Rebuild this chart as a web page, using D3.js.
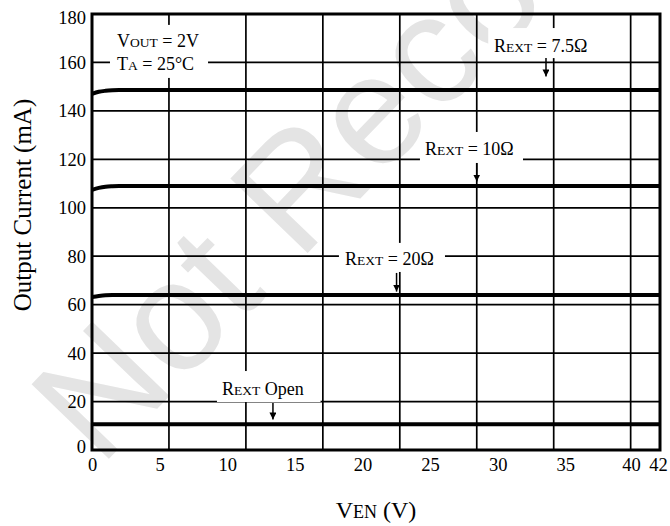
<!DOCTYPE html>
<html><head><meta charset="utf-8">
<script src="https://cdn.jsdelivr.net/npm/d3@7"></script>
<style>
body{margin:0;background:#fff}
svg{display:block}
text{font-family:"Liberation Serif","Times New Roman",serif;fill:#000}
</style>
</head><body>
<svg id="chart" width="670" height="526"></svg>
<script>
// ---- data ----
const vEn   = [0, 0.5, 1, 1.5, 2, 3, 5, 10, 15, 20, 25, 30, 35, 40, 42];
const iR75  = [147.0, 147.9, 148.3, 148.5, 148.6, 148.6, 148.6, 148.6, 148.6, 148.6, 148.6, 148.6, 148.6, 148.6, 148.6];
const iR10  = [107.4, 108.2, 108.7, 108.9, 109.0, 109.0, 109.0, 109.0, 109.0, 109.0, 109.0, 109.0, 109.0, 109.0, 109.0];
const iR20  = [63.2, 63.6, 63.9, 64.0, 64.0, 64.0, 64.0, 64.0, 64.0, 64.0, 64.0, 64.0, 64.0, 64.0, 64.0];
const iOpen = [10.6, 10.6, 10.6, 10.6, 10.6, 10.6, 10.6, 10.6, 10.6, 10.6, 10.6, 10.6, 10.6, 10.6, 10.6];
const seriesList = [iR75, iR10, iR20, iOpen];
const xTicks = [0, 5, 10, 15, 20, 25, 30, 35, 40, 42];
const yTicks = [0, 20, 40, 60, 80, 100, 120, 140, 160, 180];
const xGrid  = [5.69, 11.38, 17.07, 22.76, 28.45, 34.14, 39.83];
const yGrid  = [20, 40, 60, 80, 100, 120, 140, 160];

// annotation labels: [text, smallcaps?], position in data units
const labels = [
  {parts:[["V",0],["OUT",1],[" = 2V",0]], x:1.85, y:166.4, box:[1.33,8.58,175.5,153.6]},
  {parts:[["T",0],["A",1],[" = 25°C",0]], x:1.85, y:156.9, box:null},
  {parts:[["R",0],["EXT",1],[" = 7.5Ω",0]], x:29.73, y:164.3, box:[29.3,36.9,174.2,161.8], arrow:[33.57,161.8,154.2]},
  {parts:[["R",0],["EXT",1],[" = 10Ω",0]], x:24.62, y:121.8, box:[24.25,31.87,131.3,118.5], arrow:[28.45,118.5,110.8]},
  {parts:[["R",0],["EXT",1],[" = 20Ω",0]], x:18.71, y:76.4, box:[18.26,26.1,85.5,73.5], arrow:[22.52,73.1,65.4]},
  {parts:[["R",0],["EXT",1],[" Open",0]], x:9.61, y:22.7, box:[9.24,16.9,32.6,19.8], arrow:[13.38,19.4,12.6]}
];

// ---- scales ----
const x = d3.scaleLinear().domain([0, 42]).range([92, 660]);
const y = d3.scaleLinear().domain([0, 180]).range([450, 14]);

const svg = d3.select('#chart');

// watermark
svg.append('text')
  .attr('transform', 'translate(100,468) rotate(-46)')
  .style('font-family', '"Liberation Sans", Arial, sans-serif')
  .style('font-size', '156px')
  .style('fill', '#e4e4e4')
  .text('Not Recommended');

// grid
svg.append('g').selectAll('line').data(yGrid).join('line')
  .attr('x1', x(0)).attr('x2', x(42))
  .attr('y1', d => y(d)).attr('y2', d => y(d))
  .attr('stroke', '#000').attr('stroke-width', 1.7);
svg.append('g').selectAll('line').data(xGrid).join('line')
  .attr('x1', d => x(d)).attr('x2', d => x(d))
  .attr('y1', y(0)).attr('y2', y(180))
  .attr('stroke', '#000').attr('stroke-width', 1.7);

// label boxes
svg.append('g').selectAll('rect').data(labels.filter(d => d.box)).join('rect')
  .attr('x', d => x(d.box[0])).attr('width', d => x(d.box[1]) - x(d.box[0]))
  .attr('y', d => y(d.box[2])).attr('height', d => y(d.box[3]) - y(d.box[2]))
  .attr('fill', '#fff');

// labels
const lg = svg.append('g');
labels.forEach(l => {
  const t = lg.append('text').attr('x', x(l.x)).attr('y', y(l.y)).style('font-size', '18px');
  l.parts.forEach(p => {
    t.append('tspan').style('font-size', p[1] ? '13.5px' : '18px').text(p[0]);
  });
});

// arrows
svg.append('defs').append('marker')
  .attr('id', 'ah').attr('viewBox', '0 0 10 10').attr('refX', 10).attr('refY', 5)
  .attr('markerWidth', 7).attr('markerHeight', 7).attr('markerUnits', 'userSpaceOnUse')
  .attr('orient', 'auto')
  .append('path').attr('d', 'M0,0 L10,5 L0,10 Z').attr('fill', '#000');
svg.append('g').selectAll('line').data(labels.filter(d => d.arrow)).join('line')
  .attr('x1', d => x(d.arrow[0])).attr('x2', d => x(d.arrow[0]))
  .attr('y1', d => y(d.arrow[1])).attr('y2', d => y(d.arrow[2]))
  .attr('stroke', '#000').attr('stroke-width', 1.5)
  .attr('marker-end', 'url(#ah)');

// curves
const line = d3.line().x((d, i) => x(vEn[i])).y(d => y(d)).curve(d3.curveMonotoneX);
svg.append('g').selectAll('path').data(seriesList).join('path')
  .attr('d', d => line(d))
  .attr('fill', 'none').attr('stroke', '#000').attr('stroke-width', 4);

// axes labels
const ya = svg.append('g').attr('transform', `translate(${x(0)},0)`)
  .call(d3.axisLeft(y).tickValues(yTicks).tickSize(0).tickPadding(6));
ya.select('.domain').remove();
ya.selectAll('text').style('font-size', '18.5px').style('font-family', '"Liberation Serif", serif')
  .attr('y', d => d === 180 ? 4 : (d === 0 ? -3 : 0));

const xa = svg.append('g').attr('transform', `translate(0,${y(0)})`)
  .call(d3.axisBottom(x).tickValues(xTicks).tickSize(0).tickPadding(8));
xa.select('.domain').remove();
xa.selectAll('text').style('font-size', '18.5px').style('font-family', '"Liberation Serif", serif')
  .attr('dx', d => d === 42 ? -2 : (d === 40 ? -2 : 0));

// frame
svg.append('rect')
  .attr('x', x(0)).attr('y', y(180))
  .attr('width', x(42) - x(0)).attr('height', y(0) - y(180))
  .attr('fill', 'none').attr('stroke', '#000').attr('stroke-width', 3);

// axis titles
svg.append('text')
  .attr('transform', `translate(31,${(y(0) + y(180)) / 2 - 27}) rotate(-90)`)
  .attr('text-anchor', 'middle').style('font-size', '25px')
  .text('Output Current (mA)');
const xt = svg.append('text')
  .attr('x', (x(0) + x(42)) / 2).attr('y', 518)
  .attr('text-anchor', 'middle').style('font-size', '24px');
xt.append('tspan').text('V');
xt.append('tspan').style('font-size', '18px').text('EN');
xt.append('tspan').text(' (V)');
</script>
</body></html>
